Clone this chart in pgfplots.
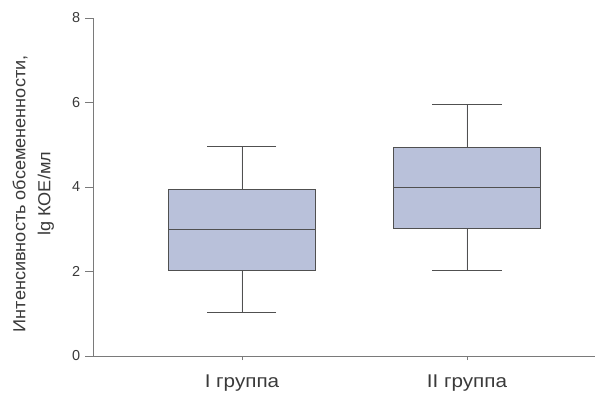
\documentclass[border=0pt]{standalone}
\usepackage{pgfplots}
\pgfplotsset{compat=1.18}
\usepgfplotslibrary{statistics}
\usepackage{fontspec}
\setmainfont{Liberation Sans}
\newfontfamily\widefont[FakeStretch=1.12]{Liberation Sans}
\newfontfamily\labfont[FakeStretch=1.04]{Liberation Sans}
\definecolor{boxfill}{HTML}{B9C1DA}
\definecolor{boxedge}{HTML}{505050}
\definecolor{axgray}{HTML}{7A7A7A}
\definecolor{txt}{HTML}{3A3A3A}
\begin{document}
\begin{tikzpicture}
\useasboundingbox (0,0) rectangle (595bp,393bp);
\begin{axis}[
  at={(93bp,37bp)}, anchor=south west,
  scale only axis, width=502bp, height=338bp,
  xmin=0.338, xmax=2.569, ymin=0, ymax=8,
  axis x line*=bottom, axis y line*=left,
  axis line style={axgray, line width=0.8pt, -},
  ytick={0,2,4,6,8},
  xtick={1,2}, xticklabels={I группа, II группа},
  tick style={axgray, line width=0.6pt},
  ytick style={/pgfplots/major tick length=8bp},
  xtick style={/pgfplots/major tick length=4bp},
  tick align=outside,
  yticklabel style={font=\fontsize{14.5}{16}\selectfont, txt, xshift=-5bp},
  xticklabel style={font=\widefont\fontsize{18.5}{21}\selectfont, txt, anchor=base, yshift=-27bp},
  /pgf/number format/assume math mode=true,
  ylabel={Интенсивность обсемененности,\\ lg КОЕ/мл},
  ylabel style={font=\labfont\fontsize{17.5}{25}\selectfont, txt, align=center, at={(axis description cs:-0.119,0.48)}, anchor=center},
  boxplot/draw direction=y,
  boxplot/box extend=0.653,
  boxplot/whisker extend=0.307,
]
\addplot[boxplot prepared={lower whisker=1.03, lower quartile=2.02, median=3.0, upper quartile=3.95, upper whisker=4.97, draw position=1}, draw=boxedge, fill=boxfill, line width=0.7pt] coordinates {};
\addplot[boxplot prepared={lower whisker=2.03, lower quartile=3.02, median=4.0, upper quartile=4.95, upper whisker=5.96, draw position=2}, draw=boxedge, fill=boxfill, line width=0.7pt] coordinates {};
\end{axis}
\end{tikzpicture}
\end{document}
